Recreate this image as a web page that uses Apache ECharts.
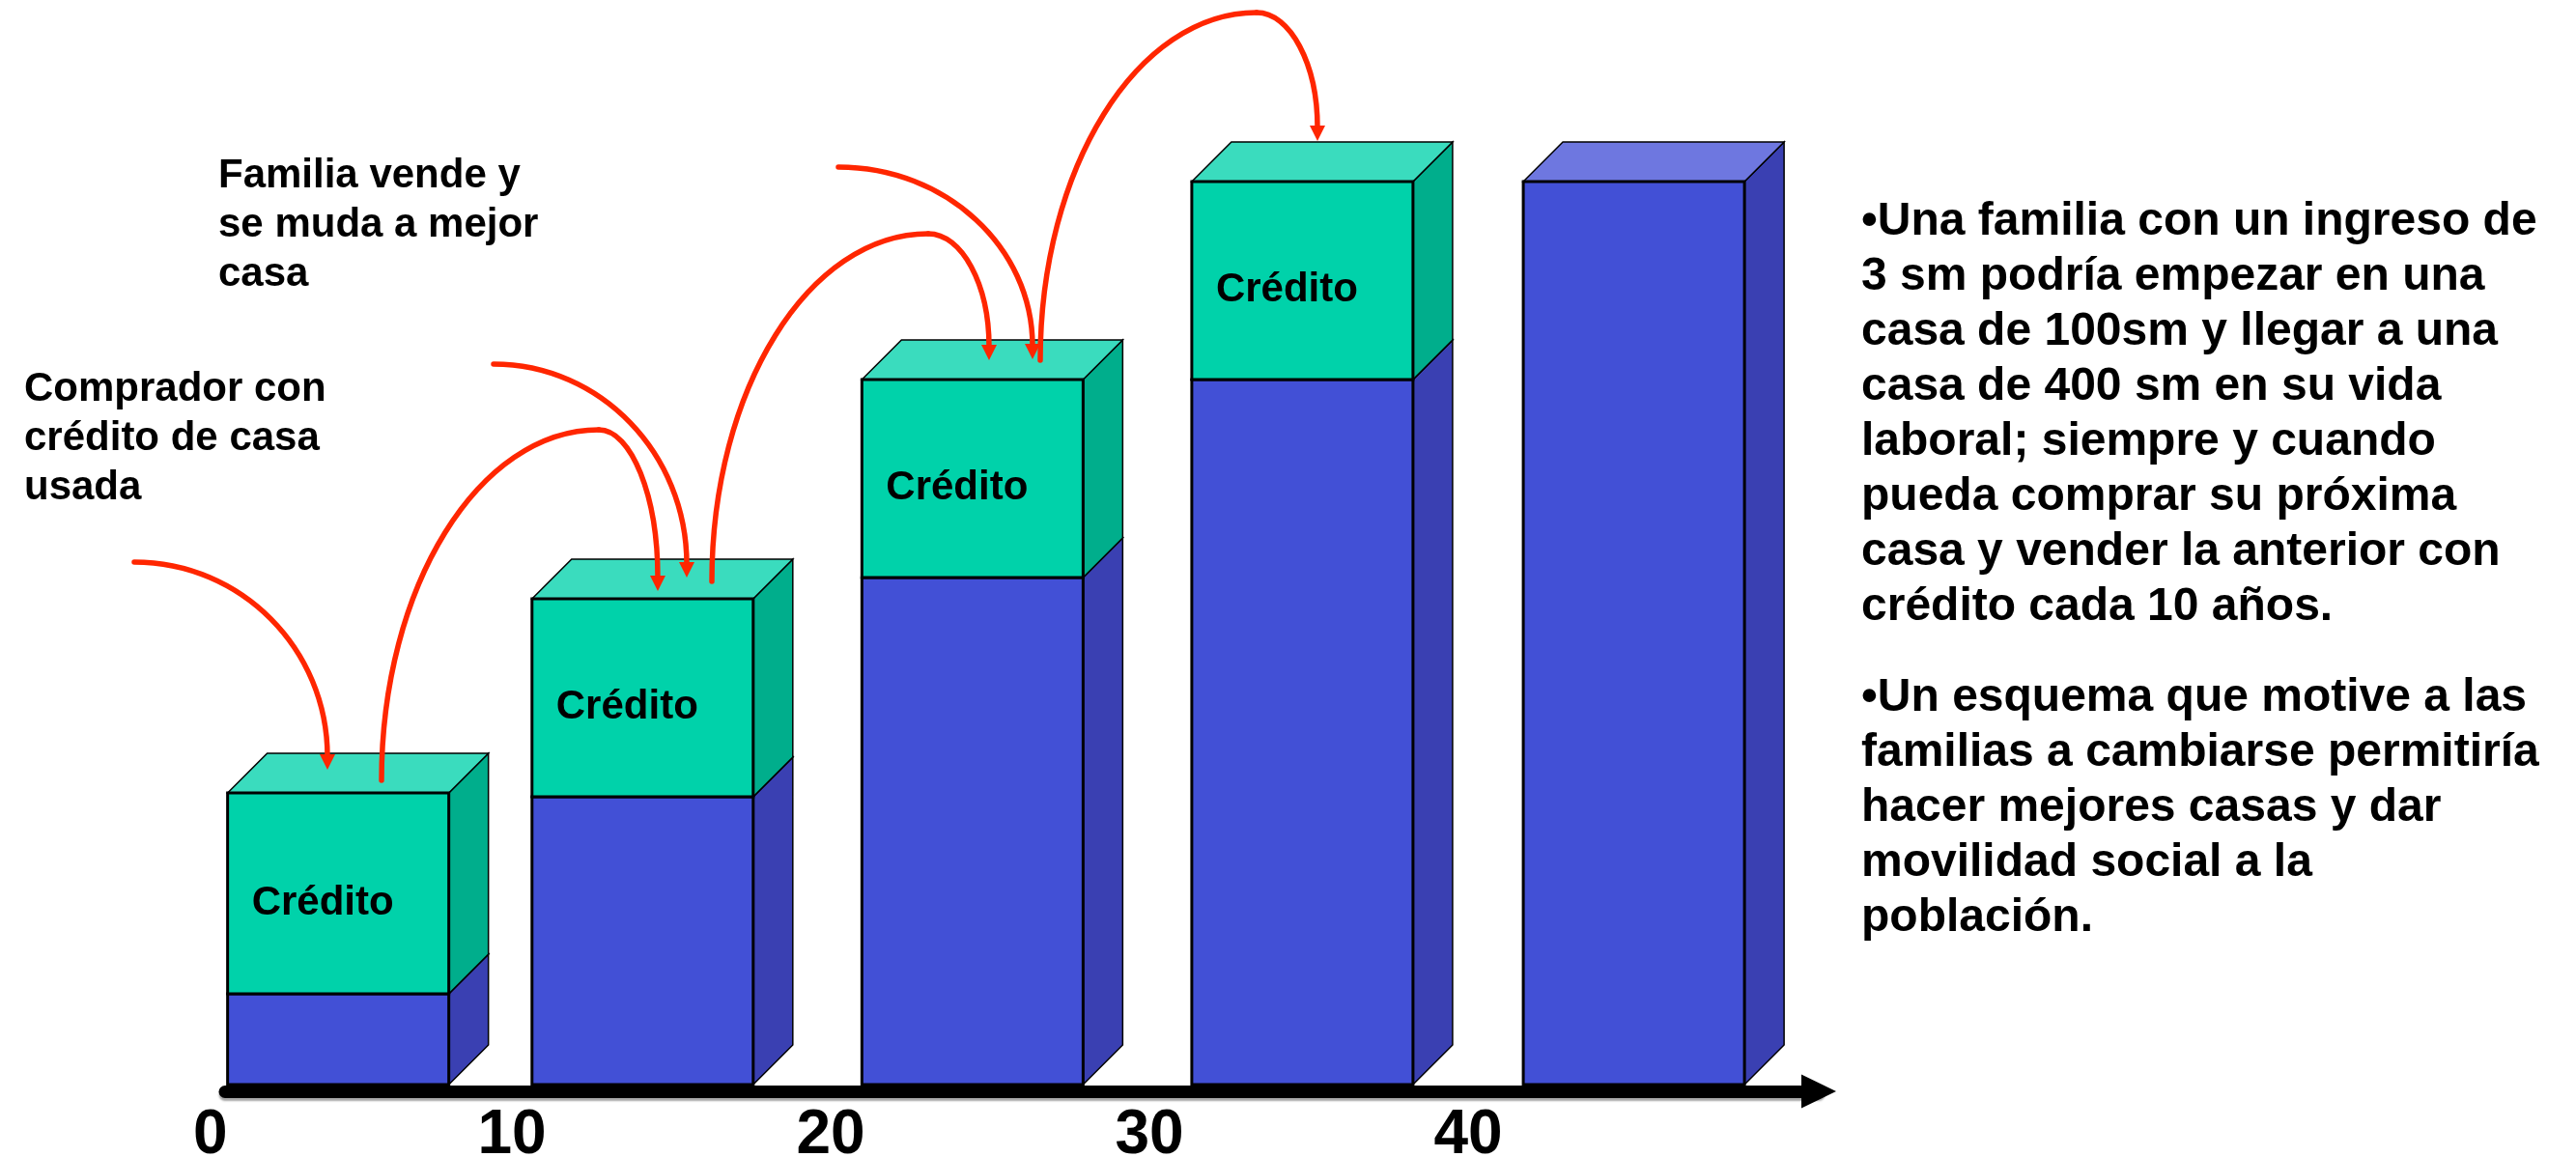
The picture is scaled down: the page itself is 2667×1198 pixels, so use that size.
<!DOCTYPE html>
<html>
<head>
<meta charset="utf-8">
<title>Movilidad de vivienda</title>
<script src="https://cdn.jsdelivr.net/npm/echarts@6.0.0/dist/echarts.min.js"></script>
<style>
  html, body { margin: 0; padding: 0; background: #fff; }
  #chart { width: 2667px; height: 1198px; }
</style>
</head>
<body>
<div id="chart"></div>
<script>
// posición (años) de cada casa sobre el eje
const periodos = [4.55, 14.1, 24.45, 34.8, 45.2];
// parte azul (valor de la casa anterior) y parte financiada con crédito
const enganche = [47, 149, 262.5, 365, 467.5];
const credito = [104, 102.5, 102.5, 102.5, 0];
const tickLabels = ["0", "10", "20", "30", "40"];
const etiquetaCredito = "Crédito";

const ROJO = "#FF2600";
const PROF = 41; // profundidad 3D en px
const MEDIO_ANCHO = 3.47; // medio ancho de la casa, en años
const azul = { front: "#4250D6", side: "#3A40B2", top: "#6E77E0" };
const verde = { front: "#00D2AA", side: "#00AE8C", top: "#3ADCBE" };
const FUENTE = '"Liberation Sans", Arial, sans-serif';

function caja(x0, x1, yt, yb, c) {
  return [
    {
      type: "polygon",
      shape: { points: [[x1, yb], [x1 + PROF, yb - PROF], [x1 + PROF, yt - PROF], [x1, yt]] },
      style: { fill: c.side, stroke: "#000", lineWidth: 1.5 },
    },
    {
      type: "polygon",
      shape: { points: [[x0, yt], [x0 + PROF, yt - PROF], [x1 + PROF, yt - PROF], [x1, yt]] },
      style: { fill: c.top, stroke: "#000", lineWidth: 1.5 },
    },
    {
      type: "rect",
      shape: { x: x0, y: yt, width: x1 - x0, height: yb - yt },
      style: { fill: c.front, stroke: "#000", lineWidth: 3 },
    },
  ];
}

function renderCasa(params, api) {
  const x = api.value(0);
  const eng = api.value(1);
  const cred = api.value(2);
  const x0 = api.coord([x - MEDIO_ANCHO, 0])[0];
  const x1 = api.coord([x + MEDIO_ANCHO, 0])[0];
  const yBase = api.coord([x, 0])[1];
  const yEng = api.coord([x, eng])[1];
  const yTop = api.coord([x, eng + cred])[1];
  let children = caja(x0, x1, yEng, yBase, azul);
  if (cred > 0) {
    children = children.concat(caja(x0, x1, yTop, yEng, verde));
    children.push({
      type: "text",
      style: {
        text: etiquetaCredito,
        x: x0 + 25,
        y: (yTop + yEng) / 2 + 10,
        verticalAlign: "middle",
        fill: "#000",
        fontSize: 42,
        fontWeight: "bold",
        fontFamily: FUENTE,
      },
    });
  }
  return { type: "group", children: children };
}

// flechas rojas (anotaciones)
const K = 0.5523;
function bajada(p0, p1) {
  return {
    type: "bezierCurve", z: 100,
    shape: {
      x1: p0[0], y1: p0[1], x2: p1[0], y2: p1[1],
      cpx1: p0[0] + K * (p1[0] - p0[0]), cpy1: p0[1],
      cpx2: p1[0], cpy2: p1[1] - K * (p1[1] - p0[1]),
    },
    style: { stroke: ROJO, lineWidth: 5.5, fill: null, lineCap: "round" },
  };
}
function subida(p0, p1) {
  return {
    type: "bezierCurve", z: 100,
    shape: {
      x1: p0[0], y1: p0[1], x2: p1[0], y2: p1[1],
      cpx1: p0[0], cpy1: p0[1] + K * (p1[1] - p0[1]),
      cpx2: p1[0] - K * (p1[0] - p0[0]), cpy2: p1[1],
    },
    style: { stroke: ROJO, lineWidth: 5.5, fill: null, lineCap: "round" },
  };
}
function punta(x, y) {
  return {
    type: "polygon", z: 100,
    shape: { points: [[x - 8, y - 16], [x + 8, y - 16], [x, y]] },
    style: { fill: ROJO },
  };
}
function flechaSimple(p0, tip) {
  return [bajada(p0, [tip[0], tip[1] - 14]), punta(tip[0], tip[1])];
}
function flechaGancho(p0, pico, tip) {
  return [subida(p0, pico), bajada(pico, [tip[0], tip[1] - 14]), punta(tip[0], tip[1])];
}

const flechas = [].concat(
  flechaSimple([139, 582], [339, 797]),
  flechaGancho([395, 808], [620, 445], [681, 612]),
  flechaSimple([511, 377], [711, 598]),
  flechaGancho([737, 602], [961, 242], [1024, 373]),
  flechaSimple([868, 173], [1069, 372]),
  flechaGancho([1077, 373], [1301, 13], [1364, 146])
);

function texto(x, y, lines, size, lh) {
  return {
    type: "text", z: 100, x: x, y: y,
    style: {
      text: lines.join("\n"),
      fill: "#000",
      fontSize: size,
      fontWeight: "bold",
      fontFamily: FUENTE,
      lineHeight: lh,
      verticalAlign: "top",
    },
  };
}

const textos = [
  texto(226, 157, ["Familia vende y", "se muda a mejor", "casa"], 42, 51),
  texto(25, 378, ["Comprador con", "crédito de casa", "usada"], 42, 51),
  texto(1927, 201, [
    "•Una familia con un ingreso de",
    "3 sm podría empezar en una",
    "casa de 100sm y llegar a una",
    "casa de 400 sm en su vida",
    "laboral; siempre y cuando",
    "pueda comprar su próxima",
    "casa y vender la anterior con",
    "crédito cada 10 años.",
  ], 48, 57),
  texto(1927, 694, [
    "•Un esquema que motive a las",
    "familias a cambiarse permitiría",
    "hacer mejores casas y dar",
    "movilidad social a la",
    "población.",
  ], 48, 57),
];

const chart = echarts.init(document.getElementById("chart"));
chart.setOption({
  animation: false,
  backgroundColor: "#fff",
  grid: [
    { left: 200, right: 784, top: 123, bottom: 75, containLabel: false, outerBoundsMode: "none" },
    // solo para la flecha del eje, que empieza en el borde de la primera casa
    { left: 233, right: 784, top: 123, bottom: 75, containLabel: false, outerBoundsMode: "none" },
  ],
  xAxis: [
    {
      type: "value",
      gridIndex: 0,
      min: 0,
      max: 51,
      interval: 10,
      offset: 7,
      axisLine: { show: false },
      axisTick: { show: false },
      splitLine: { show: false },
      axisLabel: {
        margin: 14,
        alignMinLabel: "left",
        color: "#000",
        fontSize: 64,
        fontWeight: "bold",
        fontFamily: '"Liberation Sans Narrow", "Arial Narrow", "Liberation Sans", Arial, sans-serif',
        formatter: function (v) {
          return tickLabels.indexOf(String(v)) >= 0 ? String(v) : "";
        },
      },
    },
    {
      type: "value",
      gridIndex: 1,
      min: 0,
      max: 50,
      offset: 7,
      axisLine: {
        onZero: false,
        symbol: ["none", "triangle"],
        symbolSize: [35, 36],
        lineStyle: { color: "#000", width: 13, shadowColor: "rgba(0,0,0,0.35)", shadowOffsetY: 3, shadowBlur: 2 },
      },
      axisTick: { show: false },
      axisLabel: { show: false },
      splitLine: { show: false },
    },
  ],
  yAxis: [
    { type: "value", gridIndex: 0, min: 0, max: 500, show: false },
    { type: "value", gridIndex: 1, min: 0, max: 500, show: false },
  ],
  series: [
    {
      type: "custom",
      clip: false,
      xAxisIndex: 0,
      yAxisIndex: 0,
      renderItem: renderCasa,
      encode: { x: 0, y: [1, 2] },
      data: periodos.map(function (p, i) {
        return [p, enganche[i], credito[i]];
      }),
    },
  ],
  graphic: { elements: flechas.concat(textos) },
});
</script>
</body>
</html>
